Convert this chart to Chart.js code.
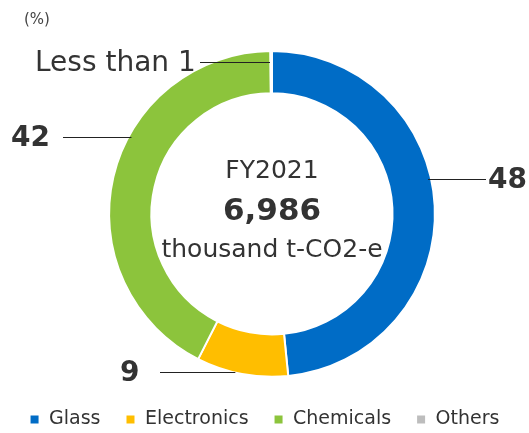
<!DOCTYPE html>
<html>
<head>
<meta charset="utf-8">
<script src="https://cdn.jsdelivr.net/npm/chart.js@4.4.1/dist/chart.umd.min.js"></script>
<style>
    html, body { margin: 0; padding: 0; background: #fff; }
    #wrap { width: 529px; height: 433px; position: relative; }
</style>
</head>
<body>
<div id="wrap"><canvas id="chart"></canvas></div>
<script>
const categories = ["Glass", "Electronics", "Chemicals", "Others"];
const shares = [48, 9, 42, 0.15];
const shareLabels = ["48", "9", "42", "Less than 1"];
const colors = ["#006CC6", "#FFBE00", "#8CC43C", "#BDBDBD"];
const fiscalYear = "FY2021";
const totalLabel = "6,986";
const totalUnit = "thousand t-CO2-e";

const FONT = "'DejaVu Sans', sans-serif";

// leader line: y offset from centre, line end x, text x
const callouts = [
    { dy: -35, side: 1, textX: 488, lineEnd: 486, bold: true },
    { dy: 158, side: -1, textX: 120, lineEnd: 160, bold: true },
    { dy: -77, side: -1, textX: 11, lineEnd: 63, bold: true },
    { dy: -152, side: -1, textX: 35, lineEnd: 200, bold: false, inner: true }
];

let calloutPlugin = {
    id: 'callouts',
    afterLayout: function(chart) {
        // doughnut sits a little right of the legend centre
        chart.chartArea.left += 15;
        chart.chartArea.width -= 15;
    },
    afterDraw: function(chart) {
        let ctx = chart.ctx;
        let arc = chart.getDatasetMeta(0).data[0];
        let cx = arc.x, cy = arc.y, R = arc.outerRadius;

        ctx.save();

        // center text
        ctx.fillStyle = "#333";
        ctx.textAlign = "center";
        ctx.textBaseline = "middle";
        ctx.font = "25px " + FONT;
        ctx.fillText(fiscalYear, cx, cy - 42);
        ctx.font = "bold 31px " + FONT;
        ctx.fillText(totalLabel, cx, cy - 2);
        ctx.font = "25px " + FONT;
        ctx.fillText(totalUnit, cx, cy + 37);

        // unit
        ctx.textAlign = "left";
        ctx.font = "15px " + FONT;
        ctx.fillStyle = "#444";
        ctx.fillText("(%)", 24, 20);

        // leader lines and labels
        callouts.forEach((c, i) => {
            let y = Math.round(cy + c.dy);
            let x = cx + c.side * Math.sqrt(Math.max(R * R - c.dy * c.dy, 0)) - c.side * 3;
            if (c.inner) x = cx - 2;

            ctx.strokeStyle = "#222";
            ctx.lineWidth = 1;
            ctx.beginPath();
            ctx.moveTo(x, y + 0.5);
            ctx.lineTo(c.lineEnd, y + 0.5);
            ctx.stroke();

            ctx.font = (c.bold ? "bold 28px " : "28px ") + FONT;
            ctx.fillStyle = "#333";
            ctx.textAlign = "left";
            ctx.fillText(shareLabels[i], c.textX, y + 2);
        });

        ctx.restore();
    }
};

new Chart(document.getElementById('chart'), {
    type: 'doughnut',
    data: {
        labels: categories,
        datasets: [{
            data: shares,
            backgroundColor: colors,
            borderColor: "#fff",
            borderWidth: 2
        }]
    },
    options: {
        responsive: true,
        maintainAspectRatio: false,
        animation: false,
        cutout: '74%',
        layout: {
            padding: { top: 50, bottom: -6, left: 0, right: 0 }
        },
        plugins: {
            tooltip: { enabled: false },
            legend: {
                display: true,
                position: 'bottom',
                title: {
                    display: true,
                    text: '',
                    padding: 3,
                    font: { size: 1 }
                },
                labels: {
                    usePointStyle: true,
                    pointStyle: 'rect',
                    boxWidth: 10,
                    boxHeight: 10,
                    padding: 25,
                    color: "#333",
                    font: { family: FONT, size: 19 }
                }
            }
        }
    },
    plugins: [calloutPlugin]
});
</script>
</body>
</html>
